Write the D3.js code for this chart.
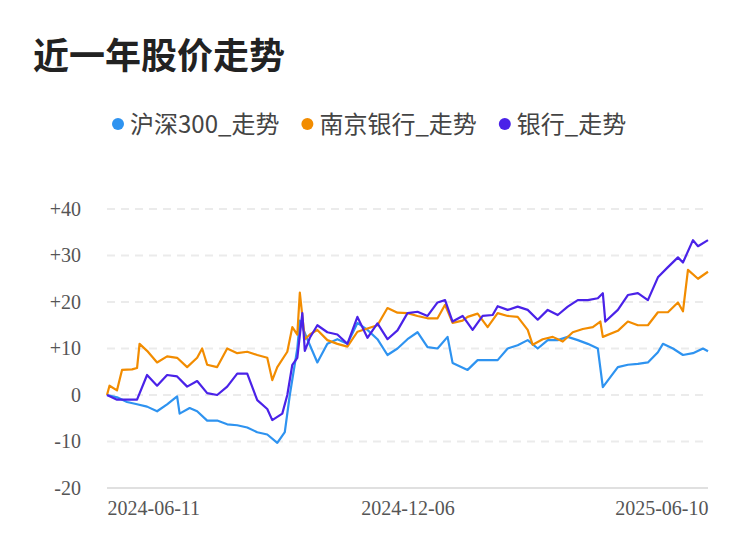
<!DOCTYPE html>
<html><head><meta charset="utf-8">
<script src="https://cdn.jsdelivr.net/npm/d3@7"></script>
<style>body{margin:0;background:#fff}</style></head>
<body><svg id="c" width="750" height="558"></svg>
<script>
const title = "近一年股价走势";
const seriesNames = ["沪深300_走势","南京银行_走势","银行_走势"];
const colors = ["#2e93f0","#f28c00","#4a22e8"];
const xTickLabels = ["2024-06-11","2024-12-06","2025-06-10"];
const yTicks = [-20,-10,0,10,20,30,40];
const hs300 = [[0,0],[4,-0.5],[8,-1.5],[12,-2],[16,-2.5],[20,-3.5],[24,-2],[28,-0.3],[29,-4],[33,-2.8],[36,-3.5],[40,-5.5],[44,-5.5],[48,-6.3],[52,-6.5],[56,-7],[60,-8],[64,-8.5],[68,-10.3],[71,-8],[73,0],[76,10],[77,16],[80,12],[84,7],[88,11],[92,12],[96,11],[100,15.5],[104,14],[108,12],[112,8.6],[116,10],[120,12],[124,13.5],[128,10.3],[132,10],[136,12.5],[138,6.9],[144,5.4],[148,7.5],[152,7.5],[156,7.5],[160,10],[164,10.7],[168,11.8],[172,10],[176,11.8],[180,11.8],[184,12.5],[188,11.8],[192,11],[196,10],[198,1.7],[204,6],[208,6.5],[212,6.7],[216,7],[220,9.2],[222,11],[226,10],[230,8.6],[234,9],[238,10],[240,9.4]];
const njyh = [[0,0],[1,2],[4,1],[6,5.4],[10,5.5],[12,5.8],[13,11],[16,9.5],[20,7],[24,8.3],[28,8],[32,6],[36,8],[38,10],[40,6.5],[44,6],[48,10],[52,9],[56,9.3],[60,8.6],[64,8],[66,3.2],[68,6],[72,9.3],[74,14.6],[76,13],[77,22],[79,12],[81,13],[84,14],[88,11.8],[92,11],[96,10.4],[100,13.6],[104,14.3],[108,15],[112,18.7],[116,17.7],[120,17.6],[124,17],[128,16.5],[132,16.5],[135,19.4],[138,15.5],[142,16],[144,16.8],[148,17.5],[152,14.6],[156,17.6],[160,17],[164,16.8],[168,14],[170,10.8],[174,12],[178,12.5],[182,11.5],[186,13.5],[190,14.2],[194,14.6],[197,15.8],[198,12.5],[204,13.8],[208,15.8],[212,15],[216,15],[220,17.8],[224,17.8],[228,19.9],[230,18],[232,26.9],[236,25],[240,26.5]];
const bank = [[0,0],[4,-1],[8,-1],[12,-1],[16,4.3],[20,2],[24,4.3],[28,4],[32,1.8],[36,3],[40,0.4],[44,0],[48,1.8],[52,4.6],[56,4.6],[60,-1.1],[64,-3],[66,-5.4],[70,-4],[72,0],[74,6.5],[76,8],[78,17.6],[79,9.5],[81,12.3],[84,15],[88,13.5],[92,13],[96,11],[100,16.8],[104,12.3],[108,15.4],[112,12],[116,13.9],[120,17.6],[124,17.9],[128,17],[132,19.9],[135,20.4],[138,15.8],[142,17],[146,14],[150,17],[154,17.2],[156,19.1],[160,18.3],[164,19],[168,18.3],[172,16.2],[176,18.3],[180,17.2],[184,19],[188,20.4],[192,20.4],[196,20.8],[198,21.9],[199,15.8],[204,18.3],[208,21.5],[212,21.9],[216,20.4],[220,25.3],[224,27.5],[228,29.6],[230,28.5],[234,33.3],[236,32],[240,33.3]];
const allSeries = [hs300, njyh, bank];

const svg = d3.select("#c");
svg.append("text").attr("x",33).attr("y",69).text(title)
  .attr("font-family","Noto Sans CJK SC").attr("font-weight","bold").attr("font-size",36).attr("fill","#222");

const lg = svg.append("g");
let lx = 112;
seriesNames.forEach((n,i)=>{
  lg.append("circle").attr("cx",lx+6).attr("cy",124).attr("r",6).attr("fill",colors[i]);
  const t = lg.append("text").attr("x",lx+18).attr("y",133).text(n)
    .attr("font-family","Noto Sans CJK SC").attr("font-size",24).attr("fill","#444");
  lx += 18 + t.node().getComputedTextLength() + 22;
});

const x = d3.scaleLinear().domain([0,240]).range([107,708]);
const y = d3.scaleLinear().domain([-20,40]).range([488,209]);

const grid = svg.append("g");
yTicks.forEach(v=>{
  grid.append("line").attr("x1",107).attr("x2",708).attr("y1",y(v)).attr("y2",y(v))
    .attr("stroke",v===-20?"#e0e0e0":"#ebebeb").attr("stroke-width",2)
    .attr("stroke-dasharray",v===-20?null:"8,6");
});
const yAxis = d3.axisLeft(y).tickValues(yTicks).tickSize(0).tickPadding(0)
  .tickFormat(v=> v>0 ? "+"+v : ""+v);
const ya = svg.append("g").attr("transform","translate(81,0)").call(yAxis);
ya.select(".domain").remove();
ya.selectAll("text").attr("font-family","Liberation Serif").attr("font-size",20).attr("fill","#555");

const xa = svg.append("g").attr("transform","translate(0,488)")
  .call(d3.axisBottom(x).tickValues([0,120,240]).tickSize(0).tickPadding(13)
  .tickFormat((d,i)=>xTickLabels[i]));
xa.select(".domain").remove();
xa.selectAll("text").attr("font-family","Liberation Serif").attr("font-size",20).attr("fill","#555")
  .attr("text-anchor",(d,i)=> i===0?"start":(i===2?"end":"middle"));

const line = d3.line().x(d=>x(d[0])).y(d=>y(d[1]));
allSeries.forEach((s,i)=>{
  svg.append("path").datum(s).attr("d",line).attr("fill","none")
    .attr("stroke",colors[i]).attr("stroke-width",2.2).attr("stroke-linejoin","round");
});
</script></body></html>
